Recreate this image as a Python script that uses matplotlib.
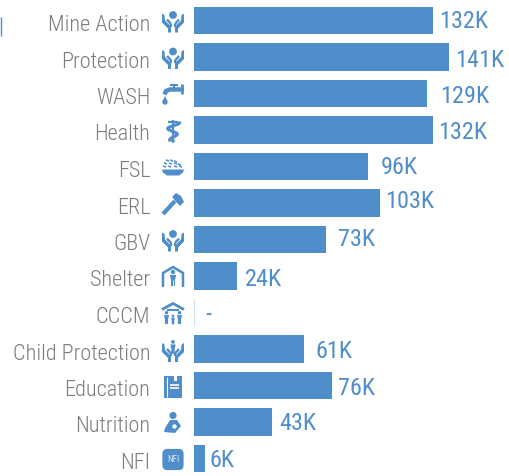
import numpy as np
import matplotlib
matplotlib.use('Agg')
import matplotlib.pyplot as plt
from matplotlib.patches import Circle, Polygon, FancyBboxPatch, Rectangle

# chart data, thousands
categories = ['Mine Action', 'Protection', 'WASH', 'Health', 'FSL', 'ERL', 'GBV',
              'Shelter', 'CCCM', 'Child Protection', 'Education', 'Nutrition', 'NFI']
values = [132, 141, 129, 132, 96, 103, 73, 24, 0, 61, 76, 43, 6]
value_labels = ['132K', '141K', '129K', '132K', '96K', '103K', '73K',
                '24K', '-', '61K', '76K', '43K', '6K']
icon_names = ['hands', 'hands', 'tap', 'health', 'bowl', 'hammer', 'hands',
              'shelter', 'camp', 'child', 'book', 'mother', 'nfi']

# the value labels are not evenly placed in the original
label_dx = [6, 6, 12.5, 5, 12.5, 4.5, 12, 7, 11, 11.5, 6, 7, 4.5]
label_dy = [-1.5, 1, 1, 0, -1.5, -3.5, -2.5, 1, 0, 0, 1, -0.5, 0]

BLUE = '#4f8dcb'
GRAY = '#7c7c7c'
FONT = 'Roboto Condensed'

W, H = 510, 476
PX_PER_K = 1.81
fig = plt.figure(figsize=(W / 100, H / 100), dpi=100)

# bars: 0 at x=194px, rows 36.5 px apart
ax = fig.add_axes([194 / W, 0, 316 / W, 1])
y = np.arange(len(categories))
ax.barh(y, values, height=0.74, color=BLUE)
ax.set_xlim(0, 316 / PX_PER_K)
ax.set_ylim((476 - 20.5) / 36.5, -20.5 / 36.5)
ax.axis('off')

# overlay in pixel coords for labels and icons
ov = fig.add_axes([0, 0, 1, 1])
ov.set_xlim(0, W)
ov.set_ylim(H, 0)
ov.axis('off')
ov.patch.set_alpha(0)


def line(xs, ys, lw=2.2, color=BLUE):
    ov.plot(xs, ys, color=color, lw=lw, solid_capstyle='butt', solid_joinstyle='miter')


def poly(pts, color=BLUE):
    ov.add_patch(Polygon(pts, color=color, lw=0))


def dot(x, y, r, color=BLUE):
    ov.add_patch(Circle((x, y), r, color=color, lw=0))


def hands(cx, cy, head=True):
    if head:
        dot(cx, cy - 6.5, 3.9)
    for s in (-1, 1):
        poly([(cx + s * 11, cy - 8), (cx + s * 8.5, cy - 6.5), (cx + s * 8, cy - 1),
              (cx + s * 2, cy + 5), (cx + s * 2, cy + 11), (cx + s * 5, cy + 11),
              (cx + s * 5, cy + 7), (cx + s * 11, cy + 1)])
        line([cx + s * 2, cx + s * 6], [cy + 2.5, cy - 2], lw=1.7)
        line([cx + s * 2, cx + s * 2], [cy + 2, cy + 5], lw=1.5)


def tap(cx, cy):
    line([cx + 11, cx - 3, cx - 7, cx - 8.5], [cy - 5, cy - 5, cy - 3.5, cy], lw=3.2)
    line([cx + 9.5, cx + 9.5], [cy - 11, cy - 1], lw=2)
    line([cx + 1, cx + 1], [cy - 10, cy - 6], lw=1.5)
    line([cx - 3, cx + 5], [cy - 10, cy - 10], lw=1.5)
    dot(cx - 8, cy + 7.5, 2.7)
    poly([(cx - 8, cy + 1.5), (cx - 10.4, cy + 6.5), (cx - 5.6, cy + 6.5)])


def health(cx, cy):
    line([cx, cx], [cy - 11, cy + 11], lw=1.6)
    t = np.linspace(0, 1, 40)
    sy = -8 + 17 * t
    sx = 6.5 * np.cos(t * 3 * np.pi) * (1 - 0.5 * t)
    ov.plot(cx + sx, cy + sy, color=BLUE, lw=2.2)
    line([cx - 5, cx + 5], [cy - 9, cy - 9], lw=1.6)
    dot(cx, cy + 10, 1.8)


def bowl(cx, cy):
    poly([(cx - 11, cy + 2), (cx + 11, cy + 2), (cx + 10, cy + 5), (cx + 6, cy + 8),
          (cx - 6, cy + 8), (cx - 10, cy + 5)])
    line([cx - 11, cx + 11], [cy + 0.6, cy + 0.6], lw=0.5, color='white')
    for gx, gy in [(-10, -1), (-5, -1), (1, -1), (6, -1), (-9, -4), (-4, -4), (1, -4), (5, -3),
                   (-7, -7), (-3, -7), (1, -6)]:
        line([cx + gx, cx + gx + 3], [cy + gy - 0.7, cy + gy + 0.7], lw=1.1)


def hammer(cx, cy):
    line([cx - 10, cx + 2], [cy + 10, cy - 3], lw=3)
    poly([(cx - 1, cy - 7), (cx + 3, cy - 11), (cx + 8, cy - 8), (cx + 11, cy - 2), (cx + 7, cy + 2)])


def person(cx, cy, s=1.0):
    dot(cx, cy - 6 * s, 2.2 * s)
    poly([(cx - 3.2 * s, cy - 3 * s), (cx + 3.2 * s, cy - 3 * s), (cx + 2 * s, cy + 2 * s),
          (cx + 2 * s, cy + 8 * s), (cx - 2 * s, cy + 8 * s), (cx - 2 * s, cy + 2 * s)])


def shelter(cx, cy):
    line([cx - 10, cx - 10, cx, cx + 10, cx + 10], [cy + 10, cy - 4, cy - 10, cy - 4, cy + 10], lw=1.8)
    person(cx, cy + 1)
    line([cx, cx], [cy + 3, cy + 9.5], lw=0.7, color='white')


def camp(cx, cy):
    line([cx - 11, cx, cx + 11], [cy - 4, cy - 10, cy - 4], lw=2)
    line([cx - 6, cx + 6], [cy - 4, cy - 4], lw=1.5)
    person(cx - 6.5, cy + 4, 0.8)
    person(cx + 6.5, cy + 4, 0.8)
    person(cx, cy + 6, 0.6)


def child(cx, cy):
    hands(cx, cy + 1, head=False)
    person(cx, cy - 3, 0.85)


def book(cx, cy):
    ov.add_patch(Rectangle((cx - 9, cy - 11), 18, 22, color=BLUE, lw=0))
    line([cx - 6.3, cx - 6.3], [cy - 10, cy + 10], lw=0.8, color='white')
    line([cx - 3, cx + 6], [cy - 2, cy - 2], lw=1.2, color='white')
    line([cx - 3, cx + 6], [cy + 1.5, cy + 1.5], lw=1.2, color='white')
    ov.add_patch(Rectangle((cx + 1, cy - 11), 3, 5, color='white', lw=0))


def mother(cx, cy):
    dot(cx, cy - 7.5, 3.6)
    poly([(cx - 3, cy - 3), (cx + 4, cy - 3), (cx + 8, cy + 3), (cx + 2, cy + 10),
          (cx - 9, cy + 9), (cx - 8, cy + 5)])
    dot(cx + 1.5, cy + 3.5, 2.2, color='white')


def nfi(cx, cy):
    ov.add_patch(FancyBboxPatch((cx - 8, cy - 8), 16, 16, boxstyle='round,pad=2.6,rounding_size=5',
                                color=BLUE, lw=0))
    ov.text(cx, cy + 0.3, 'NFI', color='#dce9f6', fontsize=6.5, ha='center', va='center', family=FONT)


icon_funcs = {'hands': hands, 'tap': tap, 'health': health, 'bowl': bowl, 'hammer': hammer,
              'shelter': shelter, 'camp': camp, 'child': child, 'book': book, 'mother': mother, 'nfi': nfi}

for i, cat in enumerate(categories):
    cy = 20.5 + 36.5 * i
    ov.text(150.5, cy + 10.5, cat, color=GRAY, fontsize=16, fontweight=300, ha='right', va='baseline', family=FONT)
    icon_funcs[icon_names[i]](173, cy + 1)
    ov.text(194 + values[i] * PX_PER_K + label_dx[i], cy + 8.8 + label_dy[i], value_labels[i],
            color=BLUE, fontsize=17.5, ha='left', va='baseline', family=FONT)

# hairline for the empty CCCM row, small tick at the left edge
line([194.5, 194.5], [299, 326], lw=0.8, color='#cfe0f1')
line([0.5, 0.5], [17, 36], lw=1, color=BLUE)

fig.savefig('out.png', dpi=100)
